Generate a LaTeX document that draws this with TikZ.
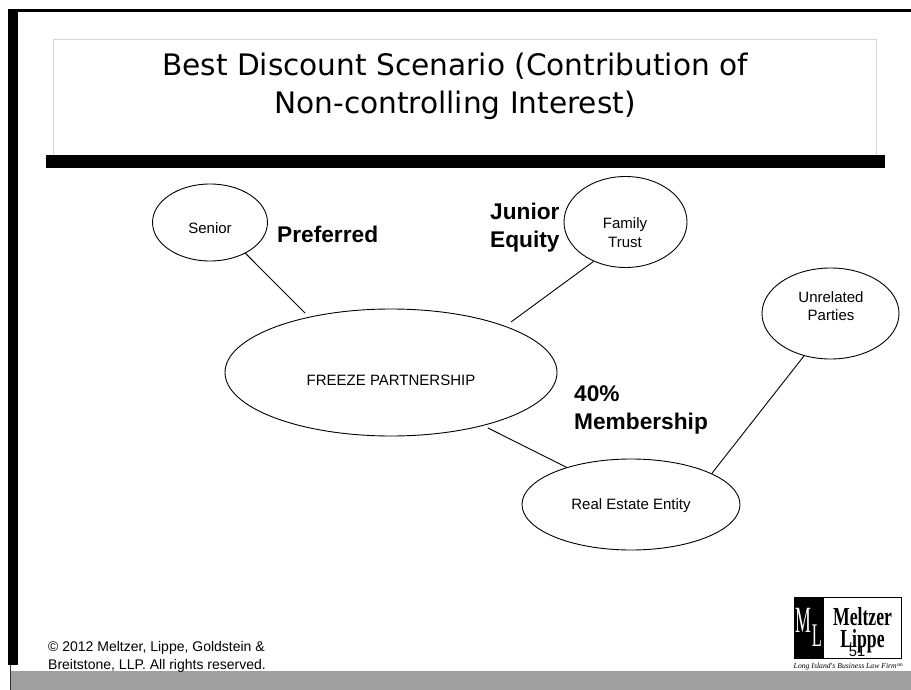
\documentclass[tikz,border=0pt]{standalone}
\usepackage{fontspec}
\setmainfont{Liberation Sans}
\newfontfamily\titlefont{DejaVu Sans}
\newfontfamily\logofont{Liberation Serif}
\usetikzlibrary{shapes.geometric}
\definecolor{greyband}{HTML}{A0A0A0}
\definecolor{boxedge}{HTML}{D4D4D4}
\tikzset{
  ell/.style={draw,ellipse,line width=0.9pt,inner sep=0pt},
  etext/.style={inner sep=0pt,align=center,font=\fontsize{15}{18.5}\selectfont},
  conn/.style={line width=0.9pt},
  lbl/.style={font=\bfseries\fontsize{22.7}{27.5}\selectfont,align=left,inner sep=0pt},
}
\begin{document}
\begin{tikzpicture}[x=1pt,y=-1pt]
\useasboundingbox (0,0) rectangle (911,690);
\fill[white] (0,0) rectangle (911,690);
% frame
\fill[black] (8,9) rectangle (18,665);
\fill[black] (8,9) rectangle (911,12);
\fill[greyband] (11,671) rectangle (911,690);
\fill[black!80] (10,665) rectangle (11,690);
% title
\node[draw=boxedge,line width=1.1pt,outer sep=0pt,minimum width=823pt,minimum height=116pt,inner sep=0pt,anchor=north west] (titlebox) at (53.5,39.5) {};
\fill[black] (46,155) rectangle (885,168);
\node[font=\titlefont\fontsize{29.6}{38}\selectfont,align=center,inner sep=0pt] (title) at (455,86) {Best Discount Scenario (Contribution of\\Non-controlling Interest)};
% ellipses
\node[ell,minimum width=115pt,minimum height=77pt] (senior) at (210,222.5) {};
\node[etext] (seniort) at (210,228) {Senior};
\node[ell,minimum width=123pt,minimum height=91pt] (family) at (625.5,222) {};
\node[etext] (familyt) at (625,232.5) {Family\\Trust};
\node[ell,minimum width=137pt,minimum height=91pt] (unrelated) at (830.5,313.5) {};
\node[etext] (unrelatedt) at (831,306) {Unrelated\\Parties};
\node[ell,minimum width=332pt,minimum height=127pt] (freeze) at (391,372.5) {};
\node[etext] (freezet) at (391,380) {FREEZE PARTNERSHIP};
\node[ell,minimum width=218pt,minimum height=91pt] (estate) at (631,504.5) {};
\node[etext] (estatet) at (631,506) {Real Estate Entity};
% connector ends
\coordinate (a) at (305,313);
\coordinate (b) at (511,322);
\coordinate (d) at (488,428);
\draw[conn] (senior.-41) -- (a);
\draw[conn] (family.-129) -- (b);
\draw[conn] (estate.21.7) -- (unrelated.-122.4);
\draw[conn] (d) -- (estate.150.4);
% labels
\node[lbl,anchor=west] (pref) at (277,234.5) {Preferred};
\node[lbl,anchor=west] (junior) at (490,227.5) {Junior\\Equity};
\node[lbl,anchor=west] (member) at (574,410) {40\%\\Membership};
% footer
\node[font=\fontsize{14}{18}\selectfont,align=left,inner sep=0pt,anchor=west] (copy) at (48,656.5) {© 2012 Meltzer, Lippe, Goldstein \&\\Breitstone, LLP. All rights reserved.};
% logo
\node[draw=black,line width=0.9pt,outer sep=0pt,minimum width=107pt,minimum height=61pt,inner sep=0pt,anchor=north west] (logobox) at (794,597) {};
\fill[black] (794,597) rectangle (824,658);
\node[text=white,font=\logofont\fontsize{37}{37}\selectfont,inner sep=0pt] (m) at (803,620) {\scalebox{0.48}[1]{M}};
\node[text=white,font=\logofont\fontsize{33}{33}\selectfont,inner sep=0pt] (l) at (817,636) {\scalebox{0.5}[1]{L}};
\node[font=\logofont\bfseries\fontsize{26}{26}\selectfont,inner sep=0pt] (melt) at (862.5,617) {\scalebox{0.68}[1]{Meltzer}};
\node[font=\logofont\bfseries\fontsize{26}{26}\selectfont,inner sep=0pt] (lippe) at (862.5,641) {\scalebox{0.68}[1]{Lippe}};
\node[font=\fontsize{14.7}{14.7}\selectfont,inner sep=0pt] (num) at (857,651.5) {51};
\node[font=\logofont\itshape\fontsize{7.7}{9}\selectfont,inner sep=0pt] (tag) at (848.5,667) {Long Island's Business Law Firm\textsuperscript{sm}};
\end{tikzpicture}
\end{document}
